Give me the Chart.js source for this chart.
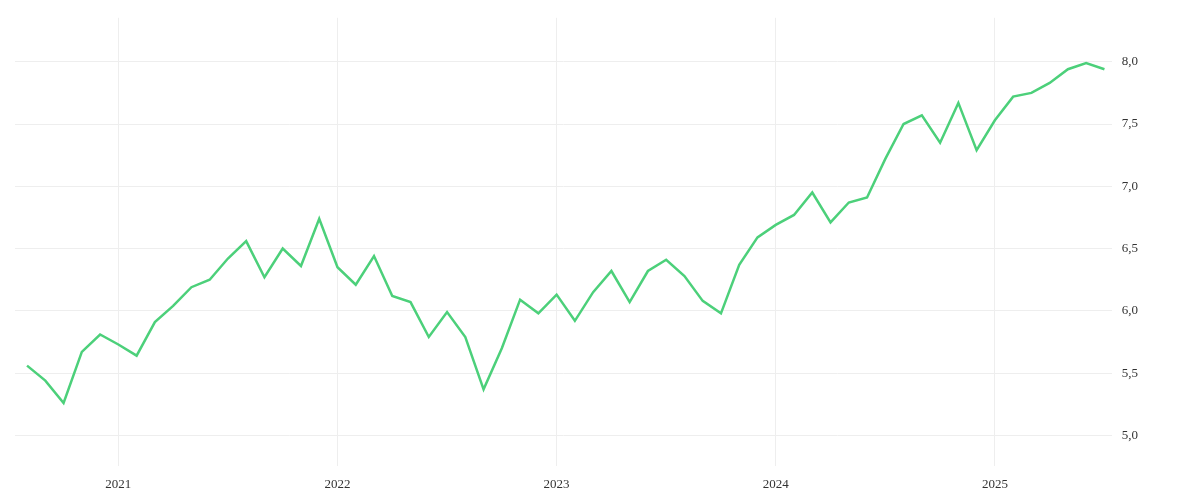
<!DOCTYPE html>
<html><head><meta charset="utf-8">
<script src="https://cdn.jsdelivr.net/npm/chart.js@4"></script>
<style>html,body{margin:0;padding:0;background:#fff;overflow:hidden}</style>
</head><body><canvas id="c" width="1200" height="500"></canvas>
<script>
// monthly, Aug 2020 .. Jul 2025
var months = [];
for (var i = 0; i < 60; i++) { var m = (7 + i) % 12, y = 2020 + Math.floor((7 + i) / 12); months.push(y + '-' + (m + 1)); }
var values = [5.56,5.44,5.26,5.67,5.81,5.73,5.64,5.91,6.04,6.19,6.25,6.42,6.56,6.27,6.50,6.36,6.74,
  6.35,6.21,6.44,6.12,6.07,5.79,5.99,5.79,5.37,5.70,6.09,5.98,
  6.13,5.92,6.15,6.32,6.07,6.32,6.41,6.28,6.08,5.98,6.37,6.59,
  6.69,6.77,6.95,6.71,6.87,6.91,7.22,7.50,7.57,7.35,7.67,7.29,
  7.53,7.72,7.75,7.83,7.94,7.99,7.94];
var yearTicks = [5, 17, 29, 41, 53];
var yearLabels = ['2021','2022','2023','2024','2025'];
var yTicks = [5.0,5.5,6.0,6.5,7.0,7.5,8.0];

var pts = values.map(function(v, i){ return {x: i, y: v}; });
var font = {family: 'Liberation Serif', size: 13};
new Chart(document.getElementById('c').getContext('2d'), {
  type: 'line',
  data: {datasets: [{data: pts, borderColor: '#4cd07a', borderWidth: 2.5, pointRadius: 0, tension: 0, fill: false}]},
  options: {
    responsive: false, animation: false,
    layout: {padding: {left: 15, top: 3, right: 52, bottom: -2}},
    plugins: {legend: {display: false}, tooltip: {enabled: false}},
    scales: {
      x: {type: 'linear', min: -0.66, max: 59.4,
        afterBuildTicks: function(s){ s.ticks = yearTicks.map(function(v){ return {value: v}; }); },
        ticks: {font: font, color: '#333', maxRotation: 0, padding: 10, callback: function(v){ return yearLabels[yearTicks.indexOf(v)]; }},
        grid: {color: '#eeeeee', drawTicks: false}, border: {display: false}},
      y: {position: 'right', min: 4.751, max: 8.353,
        afterBuildTicks: function(s){ s.ticks = yTicks.map(function(v){ return {value: v}; }); },
        ticks: {font: font, color: '#333', padding: 10, callback: function(v){ return v.toFixed(1).replace('.', ','); }},
        grid: {color: '#eeeeee', drawTicks: false}, border: {display: false}}
    }
  }
});
</script></body></html>
